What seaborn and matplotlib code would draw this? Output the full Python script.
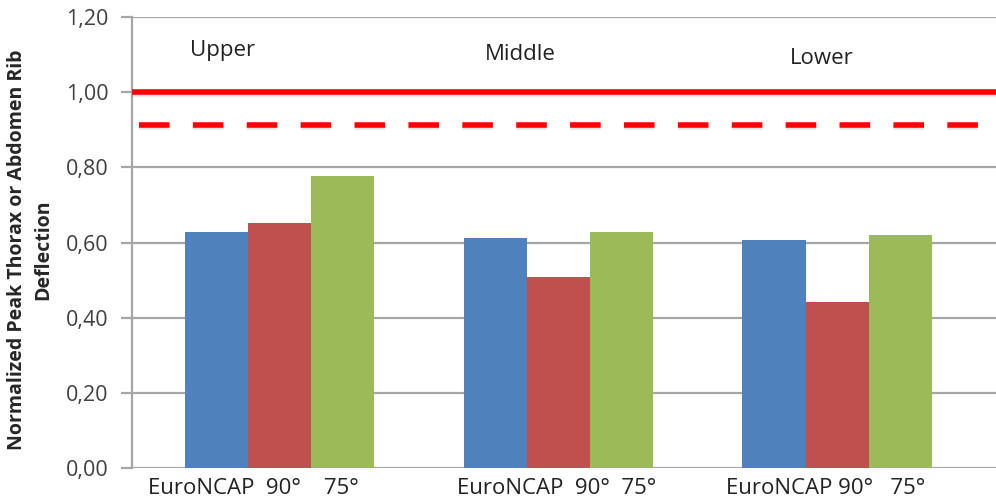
import matplotlib
matplotlib.use("Agg")
import matplotlib.pyplot as plt
import matplotlib.patheffects as pe
import matplotlib.transforms as mtransforms
from matplotlib.ticker import FuncFormatter
import pandas as pd
import seaborn as sns

# ── data ──────────────────────────────────────────────────────────────
regions = ["Upper", "Middle", "Lower"]
series = ["EuroNCAP", "90°", "75°"]
euroncap = [0.627, 0.612, 0.606]
deg90 = [0.652, 0.507, 0.441]
deg75 = [0.777, 0.627, 0.621]
xtick_labels = ["EuroNCAP  90°    75°", "EuroNCAP  90°  75°", "EuroNCAP 90°   75°"]
limit_solid = 1.00
limit_dashed = 0.912
yticks = [0.0, 0.2, 0.4, 0.6, 0.8, 1.0, 1.2]

COLORS = ["#4F81BD", "#C0504D", "#9BBB59"]
GRID = "#A6A6A6"

df = pd.DataFrame({
    "region": regions * 3,
    "series": [s for s in series for _ in regions],
    "value": euroncap + deg90 + deg75,
})

sns.set_style("white")
plt.rcParams["font.family"] = ["Open Sans", "DejaVu Sans"]

fig = plt.figure(figsize=(9.96, 4.99), dpi=100)
ax = fig.add_axes([0.1325, 0.062, 0.8675, 0.904])

sns.barplot(data=df, x="region", y="value", hue="series", order=regions,
            hue_order=series, palette=COLORS, width=0.68, gap=0,
            saturation=1, legend=False, ax=ax, zorder=3,
            edgecolor="none", linewidth=0)

ax.set_ylim(0, 1.2)
ax.set_xlim(-0.53, 2.57)
ax.set_yticks(yticks)
ax.yaxis.set_major_formatter(FuncFormatter(lambda v, _: f"{v:.2f}".replace(".", ",")))
ax.grid(axis="y", color=GRID, linewidth=1.6, zorder=0)
ax.set_axisbelow(True)

for s in ["top", "right", "bottom"]:
    ax.spines[s].set_visible(False)
ax.spines["left"].set_color(GRID)
ax.spines["left"].set_linewidth(1.6)
ax.tick_params(axis="y", direction="out", length=8, width=1.6, color=GRID,
               labelsize=15.5, labelcolor="#404040", pad=9, left=True)
ax.tick_params(axis="x", length=0, labelsize=16, pad=7, labelcolor="#222222")
ax.set_xticks(range(len(regions)))
ax.set_xticklabels(xtick_labels)

# Excel placed the category labels a little left of the group centres
for lab, dx in zip(ax.get_xticklabels(), [-26, -2, -12]):
    lab.set_transform(lab.get_transform() +
                      mtransforms.ScaledTranslation(dx / 100, 0, fig.dpi_scale_trans))

shadow = [pe.SimpleLineShadow(offset=(0, -1.5), shadow_color="gray", alpha=0.2), pe.Normal()]
ax.axhline(limit_solid, color="#FF0000", linewidth=4, zorder=4, path_effects=shadow)
ax.axhline(limit_dashed, color="#FF0000", linewidth=4, linestyle=(0, (5.5, 4.2)),
           xmin=0.008, zorder=4, path_effects=shadow)

label_pos = [(-0.206, 1.11), (-0.137, 1.10), (-0.056, 1.09)]
for i, name in enumerate(regions):
    dx, y = label_pos[i]
    ax.text(i + dx, y, name, ha="center", va="center", fontsize=16, color="#222222")

ax.set_xlabel("")
ax.set_ylabel("")
fig.text(0.030, 0.5, "Normalized Peak Thorax or Abdomen Rib\nDeflection", rotation=90,
         ha="center", va="center", fontsize=14, fontweight="bold", linespacing=1.45)

fig.savefig("out.png", dpi=100)
